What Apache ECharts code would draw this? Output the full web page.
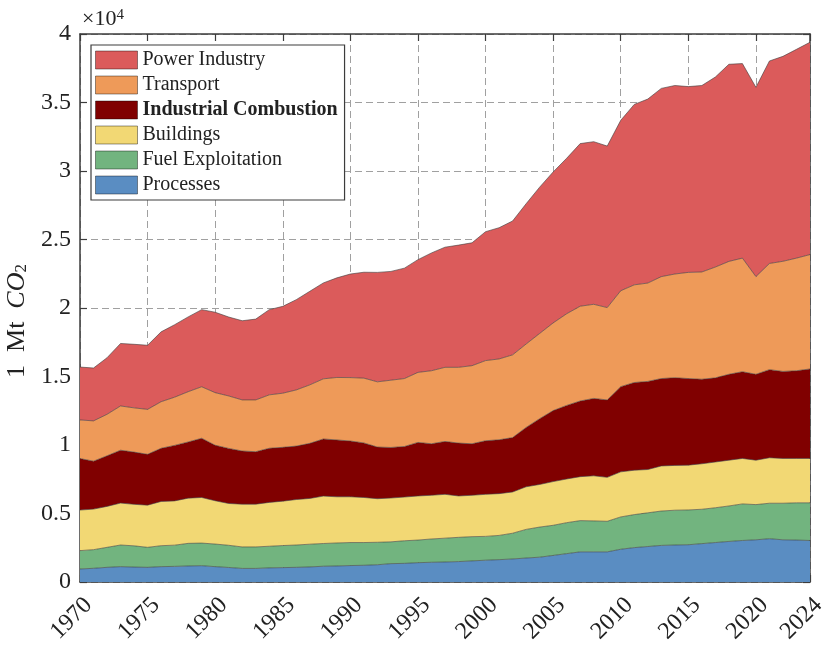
<!DOCTYPE html>
<html>
<head>
<meta charset="utf-8">
<title>CO2 emissions by sector</title>
<script src="https://cdn.jsdelivr.net/npm/echarts@6/dist/echarts.min.js"></script>
<style>
  html, body { margin: 0; padding: 0; background: #fff; }
  #chart { width: 827px; height: 645px; }
</style>
</head>
<body>
<div id="chart"></div>
<script>
  // years on the x axis
  var years = ['1970', '1971', '1972', '1973', '1974', '1975', '1976', '1977', '1978', '1979',
    '1980', '1981', '1982', '1983', '1984', '1985', '1986', '1987', '1988', '1989',
    '1990', '1991', '1992', '1993', '1994', '1995', '1996', '1997', '1998', '1999',
    '2000', '2001', '2002', '2003', '2004', '2005', '2006', '2007', '2008', '2009',
    '2010', '2011', '2012', '2013', '2014', '2015', '2016', '2017', '2018', '2019',
    '2020', '2021', '2022', '2023', '2024']

  // Mt CO2 per sector (bottom to top)
  var processes = [950, 1000, 1070, 1120, 1090, 1070, 1120, 1140, 1170, 1190,
    1120, 1060, 990, 990, 1030, 1050, 1070, 1100, 1150, 1170,
    1200, 1220, 1260, 1340, 1360, 1410, 1440, 1460, 1490, 1540,
    1590, 1630, 1680, 1750, 1810, 1940, 2070, 2200, 2200, 2200,
    2390, 2510, 2590, 2670, 2700, 2720, 2800, 2880, 2960, 3030,
    3080, 3160, 3080, 3060, 3030]
  var fuel = [1340, 1360, 1460, 1580, 1550, 1460, 1530, 1550, 1650, 1650,
    1650, 1620, 1570, 1570, 1580, 1610, 1630, 1660, 1660, 1680,
    1680, 1660, 1640, 1590, 1650, 1650, 1700, 1740, 1770, 1770,
    1740, 1770, 1880, 2090, 2200, 2200, 2260, 2280, 2260, 2230,
    2360, 2410, 2460, 2510, 2540, 2540, 2510, 2540, 2590, 2670,
    2570, 2590, 2670, 2720, 2750]
  var buildings = [2960, 2960, 2990, 3060, 3030, 3080, 3230, 3230, 3300, 3330,
    3160, 3050, 3120, 3120, 3200, 3240, 3320, 3340, 3460, 3370,
    3340, 3290, 3180, 3200, 3190, 3220, 3190, 3200, 3020, 3020,
    3070, 3050, 3010, 3110, 3110, 3190, 3190, 3210, 3290, 3210,
    3290, 3240, 3160, 3290, 3270, 3270, 3320, 3340, 3340, 3320,
    3240, 3320, 3270, 3240, 3240]
  var industrial = [3760, 3500, 3690, 3860, 3810, 3710, 3880, 4050, 4100, 4320,
    4050, 4020, 3880, 3830, 3950, 3930, 3900, 4020, 4170, 4150,
    4070, 3980, 3770, 3690, 3690, 3910, 3760, 3860, 3860, 3760,
    3910, 3930, 3970, 4330, 4800, 5180, 5370, 5520, 5650, 5650,
    6220, 6400, 6430, 6380, 6400, 6320, 6170, 6140, 6270, 6330,
    6270, 6430, 6350, 6400, 6530]
  var transport = [2820, 2940, 3030, 3230, 3230, 3280, 3400, 3520, 3670, 3760,
    3840, 3830, 3730, 3780, 3900, 3950, 4100, 4270, 4390, 4560,
    4630, 4730, 4760, 4910, 4960, 5110, 5330, 5410, 5530, 5700,
    5850, 5900, 6040, 6090, 6220, 6400, 6690, 6920, 6870, 6740,
    7000, 7130, 7180, 7440, 7570, 7750, 7830, 8090, 8240, 8290,
    7130, 7750, 8040, 8220, 8350]
  var power = [3860, 3860, 4130, 4560, 4640, 4680, 5100, 5290, 5460, 5630,
    5870, 5760, 5780, 5900, 6220, 6340, 6590, 6830, 7000, 7270,
    7560, 7730, 7990, 7940, 8060, 8230, 8600, 8770, 8920, 8970,
    9410, 9580, 9770, 10240, 10680, 11020, 11350, 11870, 11870, 11790,
    12440, 13170, 13430, 13740, 13760, 13560, 13610, 13870, 14390, 14200,
    13820, 14780, 14960, 15240, 15500]

  var FONT = 'Liberation Serif'

  // every fifth year plus the last one gets a tick, label and grid line
  function every5 (i) {
    return i % 5 === 0 || i === years.length - 1
  }

  function area (name, vals, color) {
    return {
      name: name,
      type: 'line',
      stack: 'total',
      symbol: 'none',
      data: vals,
      color: color,
      lineStyle: { width: 0.8, color: 'rgba(60,60,60,0.75)' },
      areaStyle: { color: color, opacity: 1 },
      emphasis: { disabled: true }
    }
  }

  var chart = echarts.init(document.getElementById('chart'), null, { renderer: 'canvas' })

  var axisLine = { show: true, onZero: false, lineStyle: { color: '#3c3c3c', width: 1.5 } }
  var yTick = { show: true, inside: true, length: 7, lineStyle: { color: '#3c3c3c', width: 1.2 } }
  var xTick = { show: true, inside: true, length: 7, interval: every5, lineStyle: { color: '#3c3c3c', width: 1.2 } }
  var dash = { color: '#a0a0a0', width: 1, type: [7, 4] }

  chart.setOption({
    animation: false,
    backgroundColor: '#ffffff',
    grid: { left: 80, right: 17, top: 34, bottom: 63, containLabel: false, outerBoundsMode: 'none' },
    legend: {
      orient: 'vertical',
      left: 91,
      top: 45,
      padding: [5, 7, 5, 4],
      itemWidth: 42,
      itemHeight: 18,
      itemGap: 5,
      icon: 'rect',
      backgroundColor: '#ffffff',
      borderColor: '#3c3c3c',
      borderWidth: 1.2,
      borderRadius: 0,
      selectedMode: false,
      itemStyle: { borderColor: 'rgba(0,0,0,0.4)', borderWidth: 1 },
      textStyle: { fontFamily: FONT, fontSize: 20, color: '#222' },
      data: [
        'Power Industry',
        'Transport',
        { name: 'Industrial Combustion', textStyle: { fontWeight: 'bold' } },
        'Buildings',
        'Fuel Exploitation',
        'Processes'
      ]
    },
    graphic: [
      {
        type: 'text',
        left: 82,
        top: 8,
        style: {
          text: '×10{s|4}',
          font: '22px "Liberation Serif"',
          fill: '#222',
          rich: { s: { fontSize: 15, fontFamily: FONT, verticalAlign: 'top', fill: '#222' } }
        }
      }
    ],
    xAxis: [
      {
        type: 'category',
        data: years,
        boundaryGap: false,
        axisLine: axisLine,
        axisTick: xTick,
        splitLine: { show: true, interval: every5, lineStyle: dash },
        axisLabel: {
          interval: every5,
          rotate: 45,
          margin: 11,
          verticalAlign: 'top',
          fontFamily: FONT,
          fontSize: 24,
          color: '#222'
        }
      },
      {
        type: 'category',
        data: years,
        boundaryGap: false,
        position: 'top',
        axisLine: axisLine,
        axisTick: xTick,
        splitLine: { show: false },
        axisLabel: { show: false }
      }
    ],
    yAxis: [
      {
        type: 'value',
        min: 0,
        max: 40000,
        interval: 5000,
        axisLine: axisLine,
        axisTick: yTick,
        splitLine: { show: true, lineStyle: dash },
        axisLabel: {
          margin: 9,
          fontFamily: FONT,
          fontSize: 24,
          color: '#222',
          formatter: function (v) { return String(v / 10000) }
        },
        name: '1  Mt  {i|CO}{s|2}',
        nameLocation: 'middle',
        nameGap: 46,
        nameRotate: 90,
        nameTextStyle: {
          fontFamily: FONT,
          fontSize: 26,
          color: '#222',
          padding: [0, 26, 0, 0],
          rich: {
            i: { fontFamily: FONT, fontSize: 26, fontStyle: 'italic', color: '#222' },
            s: { fontFamily: FONT, fontSize: 17, verticalAlign: 'bottom', color: '#222' }
          }
        }
      },
      {
        type: 'value',
        position: 'right',
        min: 0,
        max: 40000,
        interval: 5000,
        axisLine: axisLine,
        axisTick: yTick,
        splitLine: { show: false },
        axisLabel: { show: false }
      }
    ],
    series: [
      area('Processes', processes, '#5a8dc2'),
      area('Fuel Exploitation', fuel, '#72b47f'),
      area('Buildings', buildings, '#f2d874'),
      area('Industrial Combustion', industrial, '#800000'),
      area('Transport', transport, '#ee9a59'),
      area('Power Industry', power, '#db5b5b')
    ]
  })
</script>
</body>
</html>
